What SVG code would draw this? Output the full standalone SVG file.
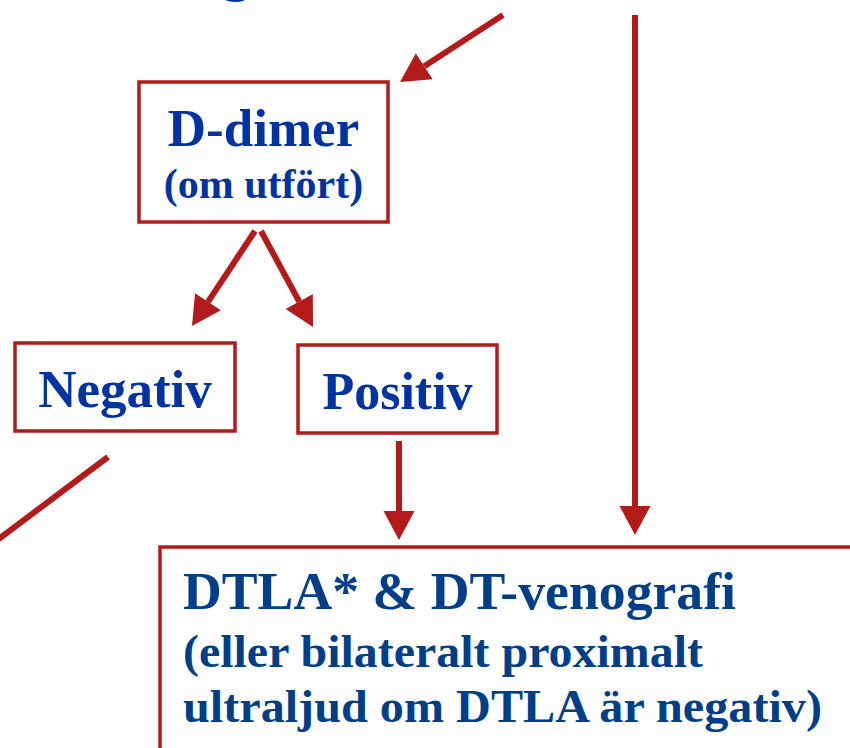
<svg xmlns="http://www.w3.org/2000/svg" width="850" height="748" viewBox="0 0 850 748">
<style>
.box{fill:#fff;stroke:#b31b1b;stroke-width:3.5}
.lbl{font-family:"Liberation Serif","Times New Roman",serif;font-weight:bold;fill:#0033a0;text-anchor:middle}
.big{font-family:"Liberation Serif","Times New Roman",serif;font-weight:bold;fill:#003f87}
.ln{stroke:#b31b1b;stroke-width:6;fill:none}
</style>
<defs>
<marker id="ah" markerUnits="userSpaceOnUse" viewBox="0 -16 30 32" markerWidth="30" markerHeight="32" refX="0" refY="0" orient="auto">
<path d="M0,-15.5 L29,0 L0,15.5 z" fill="#b31b1b"/>
</marker>
</defs>
<text x="221" y="-11" font-family="Liberation Serif,serif" font-weight="bold" font-size="60" fill="#0033a0">g</text>
<g id="connectors">
<line class="ln" x1="503" y1="15" x2="424.3" y2="66.2" marker-end="url(#ah)"/>
<line class="ln" x1="635" y1="15" x2="635" y2="506" marker-end="url(#ah)"/>
<line class="ln" x1="255" y1="231" x2="208" y2="301.8" marker-end="url(#ah)"/>
<line class="ln" x1="261" y1="231" x2="299.2" y2="301.5" marker-end="url(#ah)"/>
<line class="ln" x1="399" y1="441" x2="399" y2="511" marker-end="url(#ah)"/>
<line class="ln" x1="108" y1="457" x2="-12" y2="547"/>
</g>
<g id="ddimer">
<rect class="box" x="139" y="82" width="249" height="140"/>
<text class="lbl" x="263.5" y="146" font-size="53">D-dimer</text>
<text class="lbl" x="263.5" y="198" font-size="42">(om utfört)</text>
</g>
<g id="negativ">
<rect class="box" x="15" y="343" width="220" height="88"/>
<text class="lbl" x="125" y="407" font-size="53">Negativ</text>
</g>
<g id="positiv">
<rect class="box" x="298" y="345" width="199" height="88"/>
<text class="lbl" x="397.5" y="409" font-size="52">Positiv</text>
</g>
<g id="dtla">
<rect class="box" x="160" y="547" width="720" height="240"/>
<text class="big" x="183" y="609" font-size="53" textLength="553" lengthAdjust="spacingAndGlyphs">DTLA* &amp; DT-venografi</text>
<text class="big" x="183" y="667" font-size="47" textLength="520" lengthAdjust="spacingAndGlyphs">(eller bilateralt proximalt</text>
<text class="big" x="183" y="722" font-size="47" textLength="639" lengthAdjust="spacingAndGlyphs">ultraljud om DTLA är negativ)</text>
</g>
</svg>
